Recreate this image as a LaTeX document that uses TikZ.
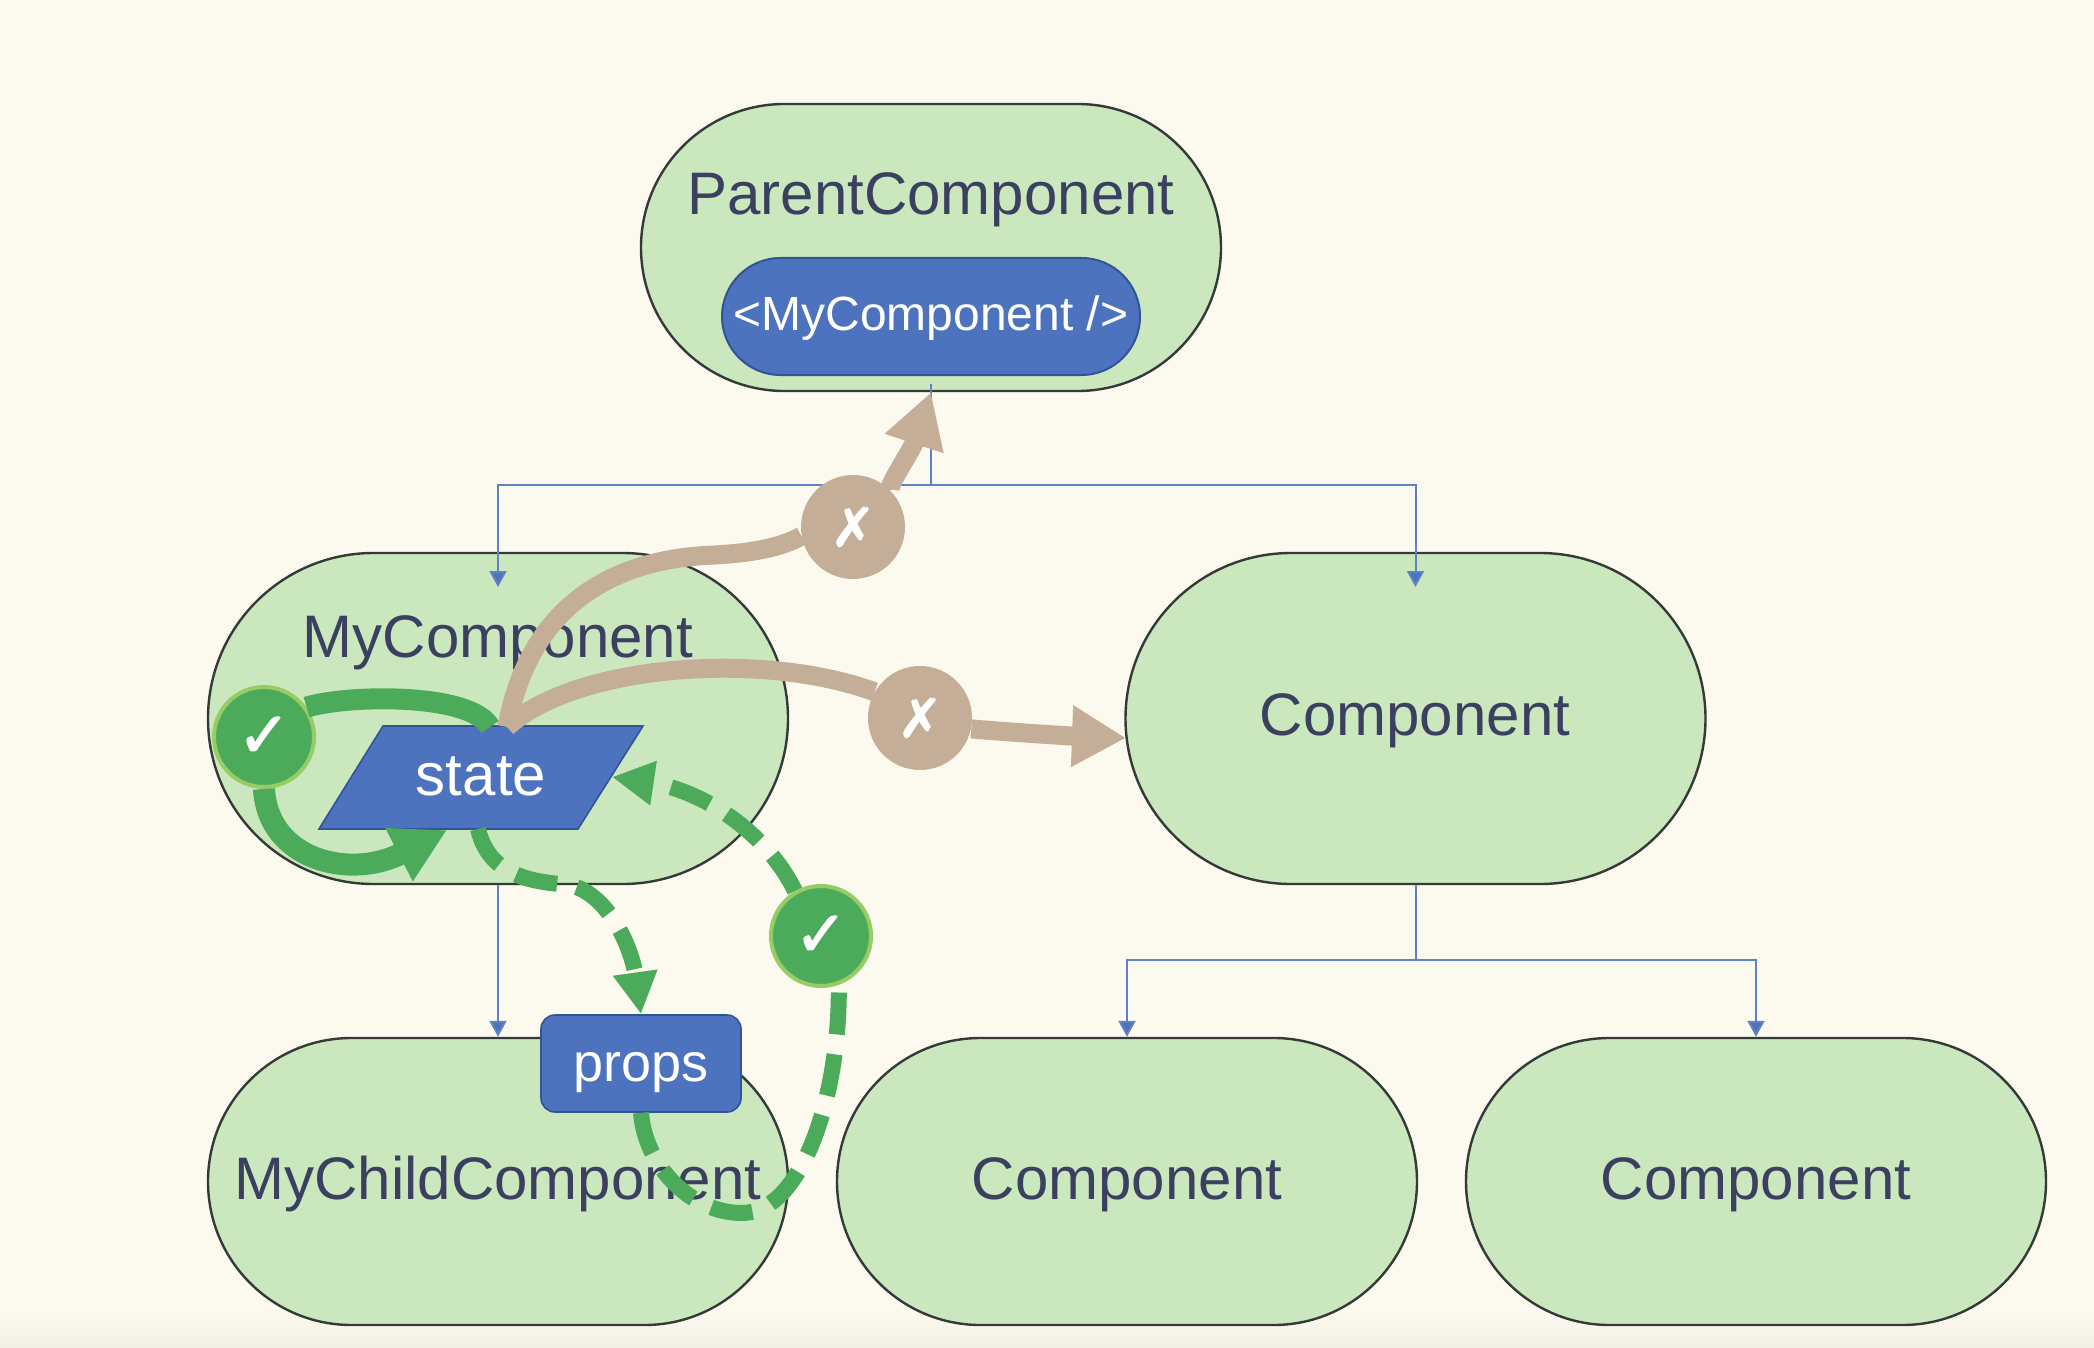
\documentclass[tikz,border=0pt]{standalone}
\usepackage{fontspec}
\setmainfont{Liberation Sans}
\newfontfamily\symfont[FakeBold=1.6]{DejaVu Sans}
\usetikzlibrary{arrows.meta,shapes.misc,shapes.geometric}
\definecolor{bgc}{HTML}{FCF9EE}
\definecolor{pillc}{HTML}{CBE7BE}
\definecolor{edgec}{HTML}{333A38}
\definecolor{inkc}{HTML}{3B4060}
\definecolor{bluec}{HTML}{4E73BE}
\definecolor{bluedk}{HTML}{2F5597}
\definecolor{treec}{HTML}{5F82C4}
\definecolor{tanc}{HTML}{C4AE98}
\definecolor{greenc}{HTML}{4CAB5B}
\definecolor{ringc}{HTML}{95CC63}
\tikzset{
  x=0.5pt,y=-0.5pt,
  pill/.style={rounded rectangle,draw=edgec,line width=1.2pt,fill=pillc,inner sep=0pt,minimum width=290pt,minimum height=#1},
  pill/.default=165.5pt,
  lab/.style={anchor=base,inner sep=0pt,font=\fontsize{30}{36}\selectfont,text=inkc},
  wlab/.style={anchor=base,inner sep=0pt,text=white},
  tree/.style={draw=treec,line width=1pt},
  treearrow/.style={tree,-{Triangle[width=8.5pt,length=8pt,fill=bluec]}},
  tanline/.style={draw=tanc,line width=9.5pt},
  tanarrow/.style={tanline,-{Triangle[width=29pt,length=27pt,fill=tanc]}},
  greenline/.style={draw=greenc,line width=10.5pt},
  dashline/.style={draw=greenc,line width=8pt,dash pattern=on 21pt off 10pt},
  greendash/.style={dashline,-{Triangle[width=21pt,length=21pt,fill=greenc]}},
  okdot/.style={circle,fill=greenc,draw=ringc,line width=2pt,minimum size=50pt,inner sep=0pt,text=white,font=\symfont\fontsize{32}{32}\selectfont},
  nodot/.style={circle,fill=tanc,minimum size=52pt,inner sep=0pt,text=white,font=\symfont\fontsize{27}{27}\selectfont},
}
\begin{document}
\begin{tikzpicture}
\useasboundingbox (0,0) rectangle (2094,1348);
\fill[bgc] (0,0) rectangle (2094,1348);
\shade[top color=bgc,bottom color=bgc!92!gray] (0,1310) rectangle (2094,1348);

% pills
\node[pill=143.5pt] (parent) at (931,247.5) {};
\node[pill] (mine) at (498,718.5) {};
\node[pill] (comp) at (1415.5,718.5) {};
\node[pill=143.5pt] (child) at (498,1181.5) {};
\node[pill=143.5pt] (compa) at (1127,1181.5) {};
\node[pill=143.5pt] (compb) at (1756,1181.5) {};

% labels
\node[lab] (tparent) at (931,215) {ParentComponent};
\node[lab] (tmine) at (498,657) {MyComponent};
\node[lab] (tcomp) at (1415,735) {Component};
\node[lab] (tchild) at (498,1199) {MyChildComponent};
\node[lab] (tcompa) at (1127,1199) {Component};
\node[lab] (tcompb) at (1756,1199) {Component};

% tree connectors
\coordinate (ptop) at (931,384);
\coordinate (pj) at (931,485);
\coordinate (cj) at (1415.5,960);
\coordinate (tipmine) at (498,587);
\coordinate (tipcomp) at (1415.5,587);
\draw[tree] (ptop) -- (pj);
\draw[treearrow] (pj) -| (tipmine);
\draw[treearrow] (pj) -| (tipcomp);
\draw[treearrow] (mine.south) -- (child.north);
\draw[tree] (comp.south) -- (cj);
\draw[treearrow] (cj) -| (compa.north);
\draw[treearrow] (cj) -| (compb.north);

% blue shapes
\node[rounded rectangle,draw=bluedk,line width=1pt,fill=bluec,inner sep=0pt,minimum width=209pt,minimum height=58.5pt] (inner) at (931,316.5) {};
\node[wlab,font=\fontsize{24}{28}\selectfont] (tinner) at (931,330) {<MyComponent />};
\coordinate (sa) at (383,726);
\coordinate (sb) at (643,726);
\coordinate (sc) at (578,829);
\coordinate (sd) at (319,829);
\coordinate (tanfrom) at (507,727);
\coordinate (tantip) at (1126,738);
\coordinate (stateback) at (490,727);
\coordinate (statehead) at (447,830);
\coordinate (stateout) at (478,829);
\coordinate (statein) at (612,777);
\draw[draw=bluedk,line width=0.8pt,fill=bluec] (sa) -- (sb) -- (sc) -- (sd) -- cycle;
\node[wlab,font=\fontsize{30}{36}\selectfont] (state) at (481,795) {state};
\node[rectangle,rounded corners=7pt,draw=bluedk,line width=0.8pt,fill=bluec,inner sep=0pt,minimum width=100pt,minimum height=48.5pt] (props) at (641,1063.5) {};
\node[wlab,font=\fontsize{27}{32}\selectfont] (tprops) at (641,1081) {props};

% badges
\node[okdot] (oka) at (264,737) {✓};
\node[okdot] (okb) at (821,936) {✓};
\node[nodot] (noa) at (853,527) {✗};
\node[nodot] (nob) at (920,718) {✗};

% tan arrows
\draw[tanline] (tanfrom) .. controls (530,600) and (620,558) .. (715,555) .. controls (750,553) and (780,548) .. (noa.190);
\draw[tanarrow] (noa.45) .. controls (888,485) and (912,450) .. (parent.south);
\draw[tanline] (tanfrom) .. controls (575,665) and (760,650) .. (nob.150);
\draw[tanarrow] (nob.-12) .. controls (1020,733) and (1070,736) .. (tantip);

% green solid
\draw[greenline] (oka.35) .. controls (345,695) and (470,692) .. (stateback);
\draw[greenline,line width=11pt,-{Triangle[width=28pt,length=27pt,fill=greenc]}] (oka.south) .. controls (268,860) and (350,880) .. (statehead);

% green dashed
\draw[greendash] (stateout) .. controls (490,880) and (540,882) .. (570,885) .. controls (610,895) and (632,950) .. (props.north);
\draw[dashline] (props.south) .. controls (645,1165) and (690,1213) .. (742,1213) .. controls (800,1213) and (840,1100) .. (okb.290);
\draw[greendash] (okb.120) .. controls (765,830) and (700,790) .. (statein);
\end{tikzpicture}
\end{document}
